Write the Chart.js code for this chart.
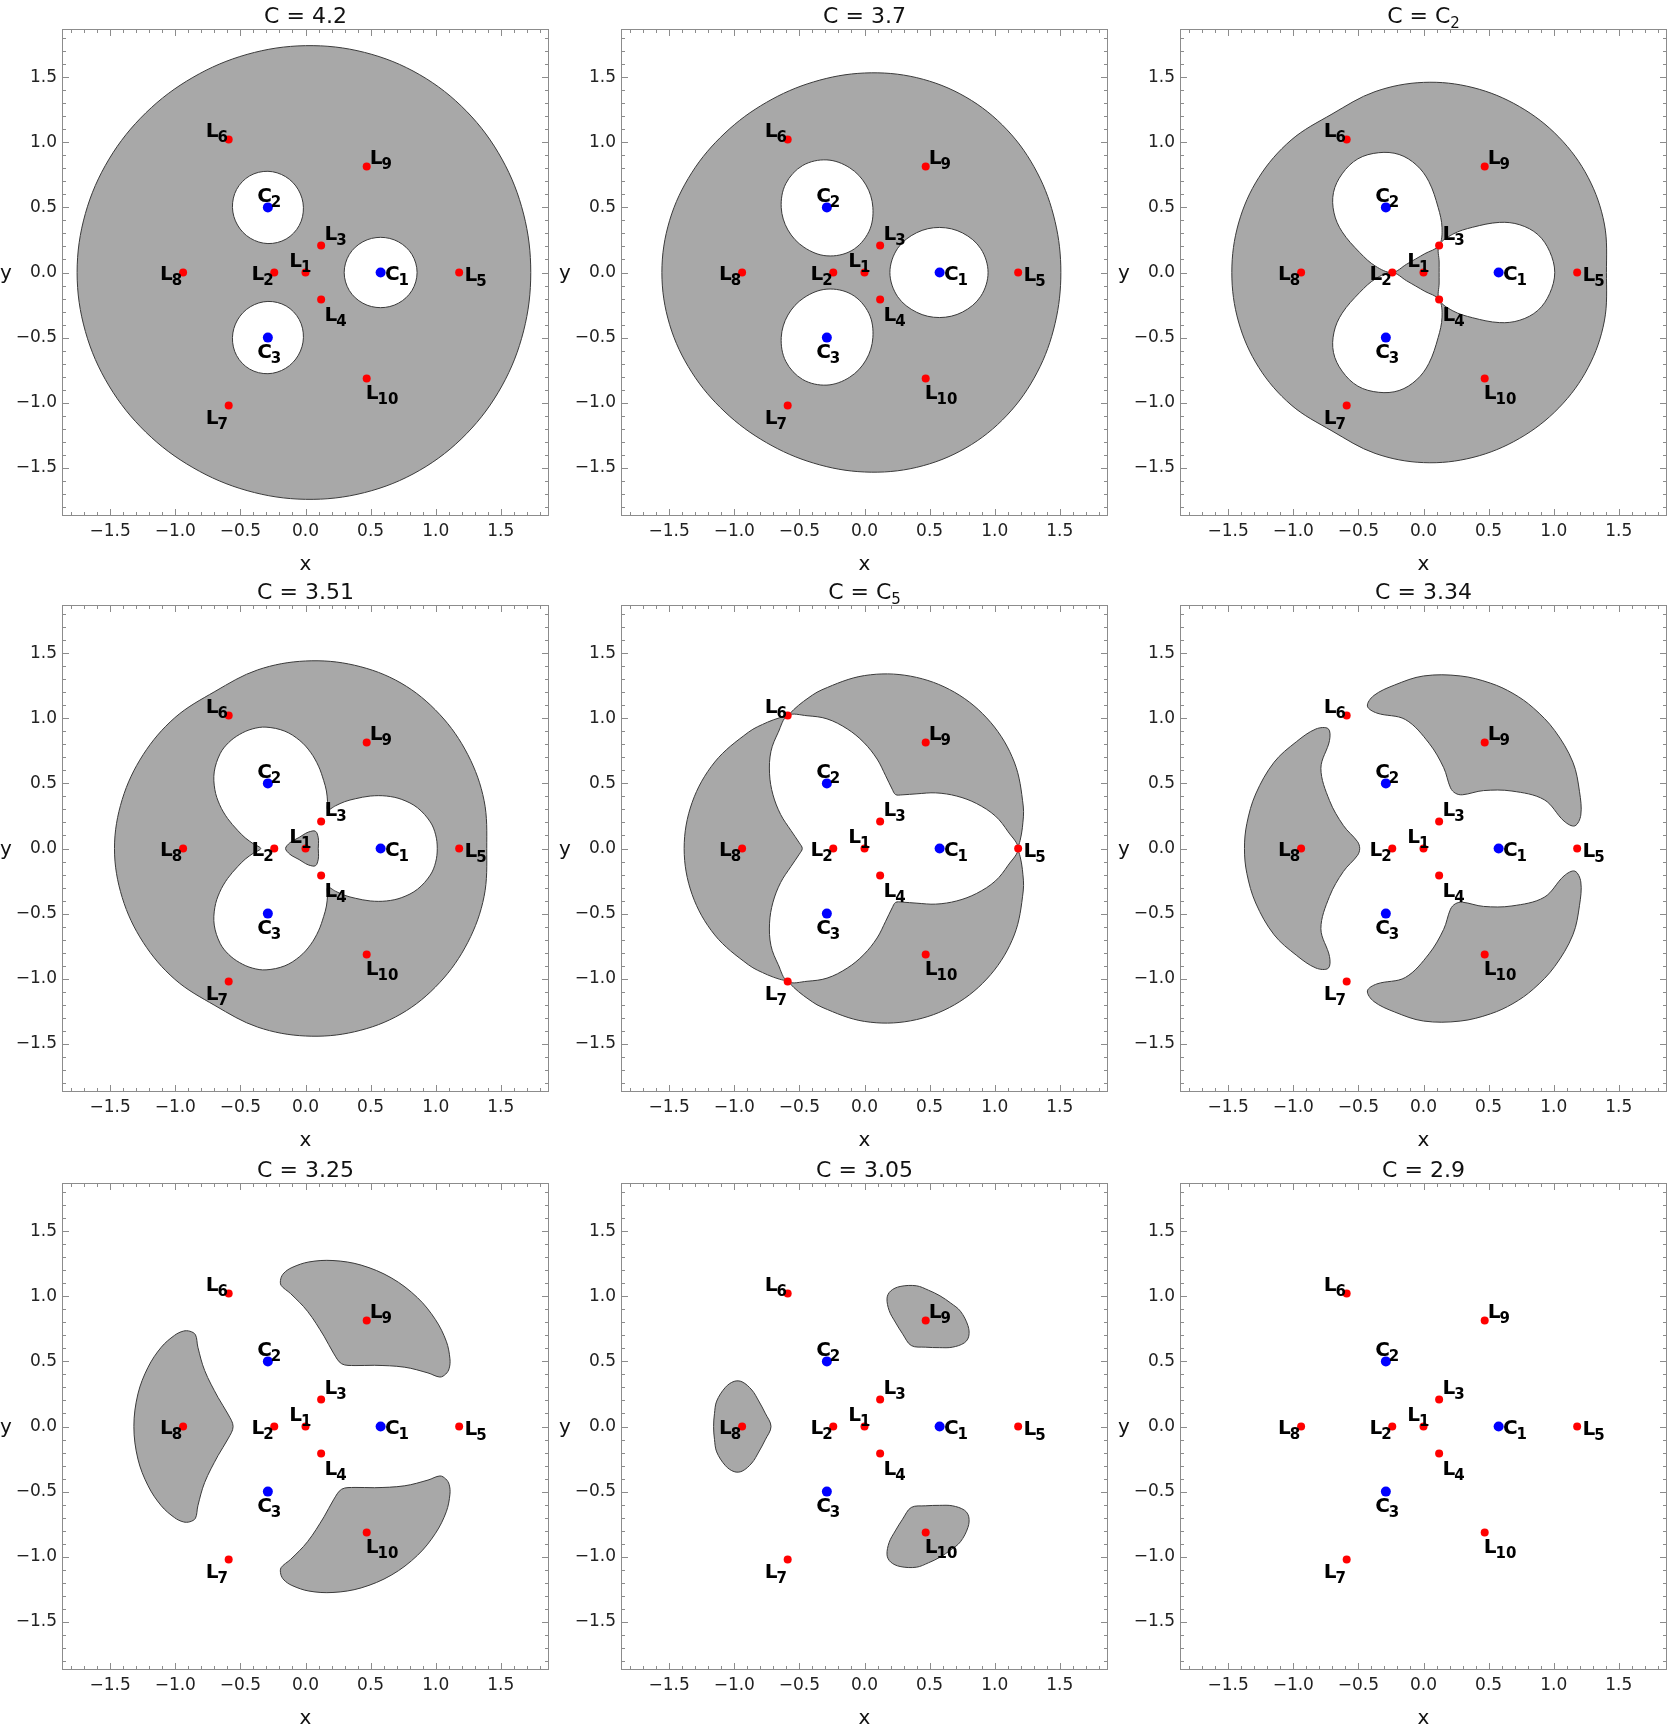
<!DOCTYPE html>
<html><head><meta charset="utf-8">
<script src="https://cdn.jsdelivr.net/npm/chart.js@4.4.0/dist/chart.umd.min.js"></script>
<style>
html,body{margin:0;padding:0;background:#fff;}
#wrap{position:relative;width:1670px;height:1730px;overflow:hidden;background:#fff;}
canvas{position:absolute;}
</style></head><body><div id="wrap"></div>
<script>
// ---------------- data ----------------
const titleMain = ['4.2','3.7','C','3.51','C','3.34','3.25','3.05','2.9'];
const titleSub  = ['','','2','','5','','','',''];
const tickValues = [-1.5,-1,-0.5,0,0.5,1,1.5];
const axisMin = -1.87, axisMax = 1.87;

const lagrangeNames = ['1','2','3','4','5','6','7','8','9','10'];
const lagrangeX = [0,-0.24,0.12,0.12,1.18,-0.59,-0.59,-0.94,0.47,0.47];
const lagrangeY = [0,0,0.208,-0.208,0,1.022,-1.022,0,0.814,-0.814];
const primaryNames = ['1','2','3'];
const primaryX = [0.577,-0.289,-0.289];
const primaryY = [0,0.5,-0.5];

// the configuration has 3-fold symmetry
const symmetryTurns = [0,120,240];

// region boundaries: polar readings (angle in degrees, radius) around a centre
const outerThirdAng = [0,15,30,45,60,75,90,105];
const p1OuterR = [1.730,1.734,1.742,1.750,1.754,1.750,1.742,1.734];
const p2OuterR = [1.508,1.515,1.532,1.549,1.556,1.549,1.532,1.515];
const p3OuterR = [1.405,1.438,1.460,1.470,1.472,1.470,1.460,1.438];
const p4OuterR = [1.392,1.420,1.440,1.457,1.467,1.457,1.440,1.420];
const p5OuterAng = [0,3,7.5,15,30,45,60,75,90,105,112.5,117];
const p5OuterR = [1.180,1.197,1.223,1.262,1.328,1.370,1.385,1.370,1.328,1.262,1.223,1.197];

const holeAng = [0,30,60,90,120,150,180,210,240,270,300,330];
const p1HoleR = [0.280,0.2775,0.2725,0.270,0.2725,0.2775,0.280,0.2775,0.2725,0.270,0.2725,0.2775];
const p2HoleR = [0.372,0.365,0.351,0.346,0.353,0.372,0.382,0.372,0.353,0.346,0.351,0.365];

const p3LobeAng = [0,22.5,44,66,89,120,140,155.5,170,180,190,204.5,220,240,271,294,316,337.5];
const p3LobeR = [0.431,0.424,0.419,0.401,0.385,0.401,0.4585,0.502,0.464,0.457,0.464,0.502,0.4585,0.401,0.385,0.401,0.419,0.424];

const p4TrefoilAng = [-55,-50,-45,-39,-33,-27,-20,-12,-6,0,6,12,20,27,33,39,45,50,55,60];
const p4TrefoilR = [0.40,0.47,0.54,0.64,0.74,0.83,0.915,0.98,1.005,1.012,1.005,0.98,0.915,0.83,0.74,0.64,0.54,0.47,0.40,0.344];
const p4IslandAng = [0,20,40,60,80,100];
const p4IslandR = [0.098,0.106,0.128,0.153,0.128,0.106];

const p5TrefoilAng = [-55,-46.2,-38,-29.6,-21.8,-13.9,-6.6,0,6.6,13.9,21.8,29.6,38,46.2,55,60];
const p5TrefoilR = [0.503,0.582,0.694,0.815,0.928,1.036,1.111,1.180,1.111,1.036,0.928,0.815,0.694,0.582,0.503,0.478];

const p6CrescentAng = [8.5,12,20,30,42,52,60,68,78,90,100,108,111.5,109,98,87,76,66,60,54,44,33,22,11];
const p6CrescentR = [1.175,1.235,1.275,1.325,1.355,1.370,1.375,1.370,1.355,1.325,1.275,1.235,1.175,1.10,1.0,0.81,0.64,0.51,0.49,0.51,0.64,0.81,1.0,1.10];

const p7CrescentAng = [20.5,22,25.1,31.2,39.4,49,60,71,80.6,88.8,94.9,98,99.5,99.8,96.4,89,78.4,69.1,60,50.9,41.6,31,23.6,20.2];
const p7CrescentR = [1.15,1.19,1.225,1.264,1.292,1.311,1.318,1.311,1.292,1.264,1.225,1.19,1.15,1.10,1.027,0.885,0.708,0.603,0.556,0.603,0.708,0.885,1.027,1.10];

const p8OvalAng = [0,30,57,75,90,100,113,135,155,180,205,225,247,260,270,285,303,330];
const p8OvalR = [0.222,0.205,0.234,0.29,0.343,0.352,0.327,0.276,0.234,0.219,0.234,0.276,0.327,0.352,0.343,0.29,0.234,0.205];

const panelShapes = [
  [ {ang:outerThirdAng, r:p1OuterR, mode:'joined', fill:'gray'},
    {cx:primaryX[0], cy:primaryY[0], ang:holeAng, r:p1HoleR, mode:'copies', fill:'white'} ],
  [ {ang:outerThirdAng, r:p2OuterR, mode:'joined', fill:'gray'},
    {cx:primaryX[0], cy:primaryY[0], ang:holeAng, r:p2HoleR, mode:'copies', fill:'white'} ],
  [ {ang:outerThirdAng, r:p3OuterR, mode:'joined', fill:'gray'},
    {cx:primaryX[0], cy:primaryY[0], ang:p3LobeAng, r:p3LobeR, mode:'copies', fill:'white'} ],
  [ {ang:outerThirdAng, r:p4OuterR, mode:'joined', fill:'gray'},
    {ang:p4TrefoilAng, r:p4TrefoilR, mode:'joined', fill:'white'},
    {ang:p4IslandAng, r:p4IslandR, mode:'joined', fill:'island'} ],
  [ {ang:p5OuterAng, r:p5OuterR, mode:'joined', fill:'gray'},
    {ang:p5TrefoilAng, r:p5TrefoilR, mode:'joined', fill:'white'} ],
  [ {ang:p6CrescentAng, r:p6CrescentR, mode:'copies', fill:'gray'} ],
  [ {ang:p7CrescentAng, r:p7CrescentR, mode:'copies', fill:'gray'} ],
  [ {cx:lagrangeX[7], cy:lagrangeY[7], ang:p8OvalAng, r:p8OvalR, mode:'copies', fill:'gray'} ],
  []
];

// ---------------- styles / layout ----------------
const FONT = '"DejaVu Sans", Verdana, sans-serif';
const PLOT_LEFT = [62, 621, 1180];
const PLOT_TOP = [29, 605, 1183];
const PLOT_SIZE = 487;
const FILL_GRAY = '#a8a8a8';
const LINE_COLOR = '#3a3a3a';
const FRAME_COLOR = '#8c8c8c';
const TEXT_COLOR = '#222222';
const labelOffsets = {
  L1:[-16.3,-6], L2:[-22.7,7.3], L3:[3.3,-5.7], L4:[3.3,21], L5:[5.3,8.3],
  L6:[-23,-2.3], L7:[-23,18], L8:[-23,7.3], L9:[3,-3], L10:[-1,21],
  C1:[4.3,7.3], C2:[-10.7,-5.3], C3:[-10.7,20.7]
};

function rotate(px, py, deg){
  const a = deg*Math.PI/180;
  return {x: px*Math.cos(a) - py*Math.sin(a), y: px*Math.sin(a) + py*Math.cos(a)};
}
function ring(shape, turn){
  const cx = shape.cx || 0, cy = shape.cy || 0;
  return shape.ang.map((a, i) => {
    const t = a*Math.PI/180;
    return rotate(cx + shape.r[i]*Math.cos(t), cy + shape.r[i]*Math.sin(t), turn);
  });
}
// closed curve: one extra point on each end so the spline is smooth at the seam;
// the two extra segments are not stroked
function closeRing(pts){
  const n = pts.length;
  return [pts[n-1]].concat(pts, [pts[0], pts[1]]);
}
function shapeRings(shape){
  if (shape.mode === 'joined'){
    let all = [];
    symmetryTurns.forEach(t => { all = all.concat(ring(shape, t)); });
    return [closeRing(all)];
  }
  return symmetryTurns.map(t => closeRing(ring(shape, t)));
}
function fmtTick(v){
  if (Math.abs(v) < 1e-9) return '0.0';
  return (v < 0 ? '\u2212' : '') + Math.abs(v).toFixed(1);
}

const decorPlugin = {
  id: 'decor',
  afterDatasetsDraw(chart){
    const ctx = chart.ctx, xs = chart.scales.x, ys = chart.scales.y;
    ctx.save();
    ctx.fillStyle = '#000';
    ctx.textAlign = 'left';
    ctx.textBaseline = 'alphabetic';
    const drawLab = (letter, num, px, py, off) => {
      const x0 = px + off[0], y0 = py + off[1];
      ctx.font = 'bold 20px ' + FONT;
      ctx.fillText(letter, x0, y0);
      const w = ctx.measureText(letter).width;
      ctx.font = 'bold 15px ' + FONT;
      ctx.fillText(num, x0 + w - 1, y0 + 5);
    };
    lagrangeNames.forEach((n, i) => drawLab('L', n, xs.getPixelForValue(lagrangeX[i]), ys.getPixelForValue(lagrangeY[i]), labelOffsets['L'+n]));
    primaryNames.forEach((n, i) => drawLab('C', n, xs.getPixelForValue(primaryX[i]), ys.getPixelForValue(primaryY[i]), labelOffsets['C'+n]));
    ctx.restore();
  },
  afterDraw(chart){
    const ctx = chart.ctx, a = chart.chartArea, xs = chart.scales.x, ys = chart.scales.y;
    const idx = chart.options.plugins.decor.index;
    ctx.save();
    // frame
    ctx.strokeStyle = FRAME_COLOR; ctx.lineWidth = 1;
    ctx.strokeRect(a.left + 0.5, a.top + 0.5, a.right - a.left - 1, a.bottom - a.top - 1);
    // inward ticks on all four sides
    ctx.beginPath();
    for (let k = -18; k <= 18; k++){
      const v = k/10, len = (k % 5 === 0) ? 7 : 4;
      const px = Math.round(xs.getPixelForValue(v)) + 0.5;
      ctx.moveTo(px, a.bottom); ctx.lineTo(px, a.bottom - len);
      ctx.moveTo(px, a.top); ctx.lineTo(px, a.top + len);
      const py = Math.round(ys.getPixelForValue(v)) + 0.5;
      ctx.moveTo(a.left, py); ctx.lineTo(a.left + len, py);
      ctx.moveTo(a.right, py); ctx.lineTo(a.right - len, py);
    }
    ctx.stroke();
    // title
    ctx.fillStyle = '#111';
    ctx.textBaseline = 'alphabetic'; ctx.textAlign = 'left';
    ctx.font = '22px ' + FONT;
    const main = 'C = ' + titleMain[idx];
    const w1 = ctx.measureText(main).width;
    let w2 = 0;
    if (titleSub[idx]){ ctx.font = '15px ' + FONT; w2 = ctx.measureText(titleSub[idx]).width; }
    const cx = (a.left + a.right)/2;
    const x0 = cx - (w1 + w2)/2, yb = a.top - 6;
    ctx.font = '22px ' + FONT; ctx.fillText(main, x0, yb);
    if (titleSub[idx]){ ctx.font = '15px ' + FONT; ctx.fillText(titleSub[idx], x0 + w1, yb + 5); }
    // axis labels
    ctx.font = '20px ' + FONT;
    ctx.textAlign = 'center';
    ctx.fillText('x', cx, a.bottom + 54);
    ctx.textAlign = 'left';
    ctx.fillText('y', a.left - 62, (a.top + a.bottom)/2 + 6);
    ctx.restore();
  }
};

const wrap = document.getElementById('wrap');
for (let p = 0; p < 9; p++){
  const col = p % 3, row = Math.floor(p/3);
  const W = 62 + PLOT_SIZE + 8, H = 29 + PLOT_SIZE + 60;
  const cv = document.createElement('canvas');
  cv.width = W; cv.height = H;
  cv.style.left = (PLOT_LEFT[col] - 62) + 'px';
  cv.style.top = (PLOT_TOP[row] - 29) + 'px';
  cv.style.width = W + 'px'; cv.style.height = H + 'px';
  wrap.appendChild(cv);

  const datasets = [];
  panelShapes[p].forEach(shape => {
    const order = shape.fill === 'gray' ? 30 : (shape.fill === 'white' ? 20 : 10);
    const bg = shape.fill === 'white' ? '#ffffff' : FILL_GRAY;
    shapeRings(shape).forEach(pts => {
      const last = pts.length - 1;
      datasets.push({
        data: pts, showLine: true, fill: 'shape', backgroundColor: bg,
        borderColor: LINE_COLOR, borderWidth: 1, pointRadius: 0, pointHoverRadius: 0,
        tension: 0.35, order: order,
        segment: {
          borderColor: (c) => (c.p0DataIndex === 0 || c.p1DataIndex === last) ? 'rgba(0,0,0,0)' : undefined
        }
      });
    });
  });
  datasets.push({
    data: lagrangeX.map((x, i) => ({x: x, y: lagrangeY[i]})), showLine: false,
    pointRadius: 4, pointBackgroundColor: '#ff0000', pointBorderColor: '#ff0000', pointBorderWidth: 0, order: 1
  });
  datasets.push({
    data: primaryX.map((x, i) => ({x: x, y: primaryY[i]})), showLine: false,
    pointRadius: 5, pointBackgroundColor: '#0000ff', pointBorderColor: '#0000ff', pointBorderWidth: 0, order: 0
  });

  const axisCommon = {
    type: 'linear', min: axisMin, max: axisMax,
    grid: {display: false, drawTicks: false, tickLength: 0},
    border: {display: false},
    afterBuildTicks: (s) => { s.ticks = tickValues.map(v => ({value: v})); }
  };
  new Chart(cv, {
    type: 'line',
    data: {datasets: datasets},
    options: {
      responsive: false, animation: false, devicePixelRatio: 1, events: [],
      layout: {padding: {left: 0, top: 29, right: 8, bottom: 0}, autoPadding: false},
      plugins: {legend: {display: false}, tooltip: {enabled: false}, title: {display: false}, decor: {index: p}},
      scales: {
        x: Object.assign({}, axisCommon, {
          position: 'bottom',
          ticks: {callback: fmtTick, font: {family: FONT, size: 17}, color: TEXT_COLOR, padding: 5, autoSkip: false, maxRotation: 0, minRotation: 0},
          afterFit: (s) => { s.height = 60; }
        }),
        y: Object.assign({}, axisCommon, {
          position: 'left',
          ticks: {callback: fmtTick, font: {family: FONT, size: 17}, color: TEXT_COLOR, padding: 5, autoSkip: false},
          afterFit: (s) => { s.width = 62; }
        })
      }
    },
    plugins: [decorPlugin]
  });
}
</script>
</body></html>
